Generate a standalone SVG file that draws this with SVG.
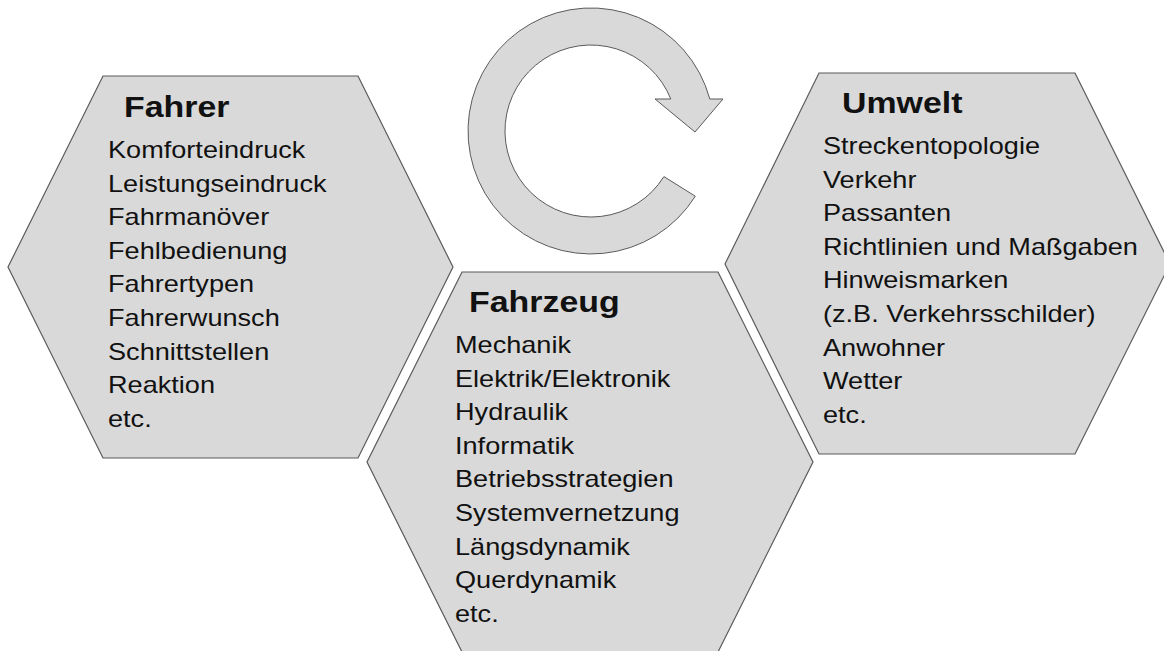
<svg xmlns="http://www.w3.org/2000/svg" width="1164" height="651" viewBox="0 0 1164 651">
  <style>
    .hex { fill: #d9d9d9; stroke: #5a5a5a; stroke-width: 1.2; }
    .cycle { fill: #d9d9d9; stroke: #5a5a5a; stroke-width: 1; }
    .title { font-family: "Liberation Sans", Arial, sans-serif; font-size: 30px; font-weight: bold; fill: #111; }
    .item { font-family: "Liberation Sans", Arial, sans-serif; font-size: 24px; fill: #111; }
  </style>
  <rect width="1164" height="651" fill="#ffffff"/>

  <!-- circular cycle arrow -->
  <g id="connectors">
    <path class="cycle" d="M 695.3 196.2 A 123 123 0 1 1 709.8 99 L 723 99 L 695 132 L 655 99 L 670.8 99 A 86 86 0 1 0 663.9 176.6 Z"/>
  </g>

  <!-- Fahrer -->
  <g id="fahrer">
    <polygon class="hex" points="103,76 358,76 453,267 358,458 103,458 8,267"/>
    <g transform="translate(124,0) scale(1.13,1)">
      <text class="title" x="0" y="117">Fahrer</text>
    </g>
    <g transform="translate(108,0) scale(1.13,1)">
      <text class="item" x="0" y="158">Komforteindruck</text>
      <text class="item" x="0" y="191.6">Leistungseindruck</text>
      <text class="item" x="0" y="225.2">Fahrmanöver</text>
      <text class="item" x="0" y="258.8">Fehlbedienung</text>
      <text class="item" x="0" y="292.4">Fahrertypen</text>
      <text class="item" x="0" y="326">Fahrerwunsch</text>
      <text class="item" x="0" y="359.6">Schnittstellen</text>
      <text class="item" x="0" y="393.2">Reaktion</text>
      <text class="item" x="0" y="426.8">etc.</text>
    </g>
  </g>

  <!-- Fahrzeug -->
  <g id="fahrzeug">
    <polygon class="hex" points="462,272 718,272 813,462 718,652 462,652 367,462"/>
    <g transform="translate(469,0) scale(1.13,1)">
      <text class="title" x="0" y="312">Fahrzeug</text>
    </g>
    <g transform="translate(455,0) scale(1.13,1)">
      <text class="item" x="0" y="353">Mechanik</text>
      <text class="item" x="0" y="386.6">Elektrik/Elektronik</text>
      <text class="item" x="0" y="420.2">Hydraulik</text>
      <text class="item" x="0" y="453.8">Informatik</text>
      <text class="item" x="0" y="487.4">Betriebsstrategien</text>
      <text class="item" x="0" y="521">Systemvernetzung</text>
      <text class="item" x="0" y="554.6">Längsdynamik</text>
      <text class="item" x="0" y="588.2">Querdynamik</text>
      <text class="item" x="0" y="621.8">etc.</text>
    </g>
  </g>

  <!-- Umwelt -->
  <g id="umwelt">
    <polygon class="hex" points="819,73 1075,73 1170,264 1075,454 819,454 725,264"/>
    <g transform="translate(842,0) scale(1.13,1)">
      <text class="title" x="0" y="113">Umwelt</text>
    </g>
    <g transform="translate(823,0) scale(1.13,1)">
      <text class="item" x="0" y="154">Streckentopologie</text>
      <text class="item" x="0" y="187.6">Verkehr</text>
      <text class="item" x="0" y="221.2">Passanten</text>
      <text class="item" x="0" y="254.8">Richtlinien und Maßgaben</text>
      <text class="item" x="0" y="288.4">Hinweismarken</text>
      <text class="item" x="0" y="322">(z.B. Verkehrsschilder)</text>
      <text class="item" x="0" y="355.6">Anwohner</text>
      <text class="item" x="0" y="389.2">Wetter</text>
      <text class="item" x="0" y="422.8">etc.</text>
    </g>
  </g>
</svg>
